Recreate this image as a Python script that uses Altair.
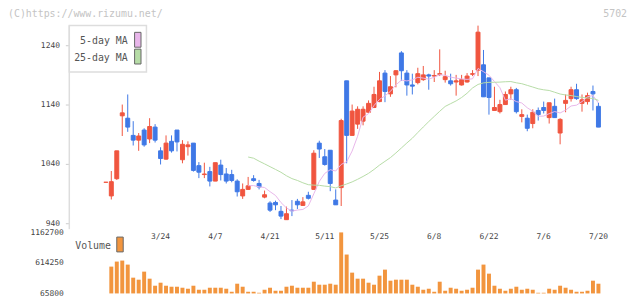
import altair as alt
import pandas as pd

# ---------------- data ----------------
opens = [1009, 986, 1015, 1121, 1117, 1088, 1080, 1097, 1082, 1102,
         1062, 1048, 1078, 1097, 1047, 1069, 1075, 1037, 1022, 1027,
         1011, 1038, 1023, 1022, 1011, 986, 997, 1015, 1007, 984,
         974, 975, 960, 946, 962, 977, 970, 987, 997, 1075,
         1052, 1063, 979, 1000, 1180, 1088, 1107, 1112, 1127, 1135,
         1145, 1193, 1158, 1190, 1227, 1193, 1173, 1177, 1182, 1190,
         1188, 1191, 1182, 1180, 1178, 1173, 1178, 1191, 1198, 1207,
         1185, 1130, 1128, 1140, 1158, 1165, 1120, 1117, 1108, 1130,
         1135, 1118, 1137, 1092, 1142, 1150, 1165, 1142, 1145, 1162,
         1137]
highs = [1009, 1028, 1062, 1140, 1157, 1112, 1092, 1100, 1117, 1107,
         1068, 1088, 1088, 1097, 1080, 1078, 1075, 1043, 1042, 1035,
         1042, 1047, 1033, 1030, 1014, 1007, 1018, 1021, 1013, 995,
         977, 978, 969, 968, 979, 981, 984, 993, 1063, 1079,
         1065, 1063, 997, 1116, 1180, 1140, 1137, 1137, 1147, 1170,
         1195, 1198, 1188, 1198, 1230, 1198, 1192, 1202, 1205, 1192,
         1198, 1233, 1197, 1192, 1190, 1190, 1193, 1198, 1273, 1232,
         1185, 1170, 1148, 1162, 1170, 1168, 1132, 1123, 1132, 1135,
         1145, 1143, 1150, 1117, 1157, 1170, 1175, 1157, 1160, 1172,
         1143]
lows = [1009, 980, 1013, 1087, 1094, 1071, 1062, 1069, 1075, 1076,
        1039, 1047, 1059, 1061, 1041, 1054, 1027, 1016, 1016, 1002,
        1011, 1012, 1007, 1009, 985, 981, 996, 1010, 997, 982,
        959, 962, 947, 946, 952, 964, 969, 980, 996, 1050,
        1037, 994, 971, 969, 1041, 1088, 1099, 1105, 1126, 1134,
        1144, 1144, 1153, 1169, 1180, 1155, 1157, 1174, 1180, 1165,
        1178, 1188, 1177, 1172, 1155, 1172, 1177, 1188, 1188, 1153,
        1123, 1130, 1125, 1140, 1148, 1125, 1110, 1095, 1100, 1113,
        1125, 1108, 1118, 1073, 1127, 1145, 1148, 1128, 1140, 1130,
        1102]
closes = [1009, 1010, 1062, 1126, 1102, 1080, 1087, 1072, 1103, 1080,
          1049, 1075, 1062, 1077, 1073, 1072, 1029, 1026, 1023, 1011,
          1042, 1022, 1011, 1012, 993, 997, 1003, 1012, 1001, 988,
          962, 971, 952, 956, 961, 971, 976, 982, 1058, 1065,
          1039, 1007, 971, 1113, 1088, 1129, 1132, 1132, 1142, 1157,
          1180, 1162, 1170, 1197, 1197, 1173, 1171, 1192, 1190, 1188,
          1189, 1192, 1187, 1175, 1180, 1182, 1188, 1192, 1262, 1153,
          1152, 1135, 1140, 1157, 1165, 1128, 1123, 1100, 1127, 1123,
          1130, 1143, 1118, 1115, 1147, 1165, 1150, 1148, 1155, 1158,
          1102]
volumes = [65800, 548000, 638400, 656400, 584100, 349100, 312900, 457600, 331000, 204400,
           258700, 204400, 186300, 186300, 168300, 150200, 204400, 132100, 132100, 168300,
           168300, 168300, 150200, 95900, 240600, 186300, 95900, 95900, 77900, 132100,
           168300, 114000, 114000, 186300, 204400, 168300, 168300, 168300, 276700, 222500,
           222500, 240600, 222500, 1162700, 764900, 439500, 331000, 331000, 258700, 222500,
           385200, 493700, 294800, 312900, 312900, 312900, 222500, 186300, 132100, 150200,
           95900, 276700, 114000, 168300, 150200, 114000, 132100, 168300, 493700, 584100,
           421400, 204400, 150200, 114000, 150200, 186300, 132100, 150200, 132100, 77900,
           77900, 150200, 132100, 204400, 168300, 132100, 95900, 95900, 114000, 294800,
           240600]
date_labels = ["3/24", "4/7", "4/21", "5/11", "5/25", "6/8", "6/22", "7/6", "7/20"]
date_index = [10, 20, 30, 40, 50, 60, 70, 80, 90]
price_ticks = [940, 1040, 1140, 1240]
volume_ticks = [65800, 614250, 1162700]
ma_start = 26

# ---------------- styling ----------------
RED = "#f0553f"
BLUE = "#3f78e6"
ORANGE = "#f2953e"
PINK = "#e8b6ea"
GREEN = "#b6dca6"
AXIS_GRAY = "#dddddd"
TEXT = "#444444"
FONT = "DejaVu Sans Mono"

W, H = 555, 271
X_DOM = [-5.77, 92.7]
P_DOM = [821.67, 1273.33]
V_DOM = [65800, 4883600]

df = pd.DataFrame({"i": list(range(len(opens))), "open": opens, "high": highs,
                   "low": lows, "close": closes, "volume": volumes})

xs = alt.Scale(domain=X_DOM, nice=False, zero=False)
x_tick_vals = [round(X_DOM[0] + k * (X_DOM[1] - X_DOM[0]) / 17, 4) for k in range(18)]


def ps():
    return alt.Scale(domain=P_DOM, nice=False, zero=False)


up = alt.condition("datum.close >= datum.open", alt.value(RED), alt.value(BLUE))
base = alt.Chart(df)

wicks = base.mark_rule(strokeWidth=1).encode(
    x=alt.X("i:Q", scale=xs, axis=alt.Axis(values=x_tick_vals, labels=False, tickSize=7,
                                           tickColor=AXIS_GRAY, domainColor=AXIS_GRAY,
                                           domainWidth=1.5, grid=False, offset=-71, title=None)),
    y=alt.Y("low:Q", scale=ps(), axis=alt.Axis(values=price_ticks, orient="left", tickSize=4,
                                               tickColor="#cccccc", domain=False, grid=False,
                                               format="d", labelFont=FONT, labelFontSize=8,
                                               labelColor=TEXT, labelPadding=6, title=None)),
    y2="high:Q",
    color=up,
)
bodies = base.mark_bar(width=4, strokeWidth=1).encode(
    x=alt.X("i:Q", scale=xs, axis=None),
    y=alt.Y("open:Q", scale=ps(), axis=None),
    y2="close:Q",
    fill=up,
    stroke=up,
)
ma = base.transform_window(
    ma5="mean(close)", frame=[-4, 0], sort=[alt.SortField("i")]
).transform_window(
    ma25="mean(close)", frame=[-24, 0], sort=[alt.SortField("i")]
).transform_filter(f"datum.i >= {ma_start}")
ma5 = ma.mark_line(color=PINK, strokeWidth=1).encode(
    x=alt.X("i:Q", scale=xs, axis=None), y=alt.Y("ma5:Q", scale=ps(), axis=None))
ma25 = ma.mark_line(color=GREEN, strokeWidth=1).encode(
    x=alt.X("i:Q", scale=xs, axis=None), y=alt.Y("ma25:Q", scale=ps(), axis=None))

vol_bars = base.mark_bar(width=4, color=ORANGE).encode(
    x=alt.X("i:Q", scale=xs, axis=None),
    y=alt.Y("volume:Q", scale=alt.Scale(domain=V_DOM, nice=False, zero=False),
            axis=alt.Axis(values=volume_ticks, orient="left", ticks=False, domain=False,
                          grid=False, format="d", labelFont=FONT, labelFontSize=8,
                          labelColor=TEXT, labelPadding=6, title=None)),
    y2=alt.datum(65800),
)

dates = alt.Chart(pd.DataFrame({"i": date_index, "label": date_labels})).mark_text(
    font=FONT, fontSize=8, color=TEXT, baseline="middle").encode(
    x=alt.X("i:Q", scale=xs, axis=None), y=alt.value(214), text="label:N")


def txt(s, x, y, align="left", size=10, color=TEXT):
    return alt.Chart(pd.DataFrame({"t": [s]})).mark_text(
        font=FONT, fontSize=size, color=color, align=align, baseline="middle").encode(
        text="t:N", x=alt.value(x), y=alt.value(y))


def box(x1, x2, y1, y2, fill, stroke, sw=1):
    return alt.Chart(pd.DataFrame({"a": [0]})).mark_rect(
        fill=fill, stroke=stroke, strokeWidth=sw).encode(
        x=alt.value(x1), x2=alt.value(x2), y=alt.value(y1), y2=alt.value(y2))


yaxis_line = alt.Chart(pd.DataFrame({"a": [0]})).mark_rule(color=AXIS_GRAY, strokeWidth=1.5).encode(
    x=alt.value(0), y=alt.value(0), y2=alt.value(206))

legend = [
    box(0, 78, 0, 47, "white", AXIS_GRAY, 1.5),
    txt("5-day MA", 59, 16, align="right", color="#555555"),
    txt("25-day MA", 59, 33, align="right", color="#555555"),
    box(66, 72.5, 7, 22, PINK, "#666666"),
    box(66, 72.5, 24, 39, GREEN, "#666666"),
]
vol_legend = [
    txt("Volume", 6, 223, color="#555555"),
    box(48, 54.5, 214, 229, ORANGE, "#666666"),
]
header = [
    txt("(C)https://www.rizumu.net/", -62, -12, color="#c4c4c4"),
    txt("5702", 564, -12, align="right", color="#c4c4c4"),
]

chart = alt.layer(
    wicks, yaxis_line, bodies, ma5, ma25, vol_bars, dates, *legend, *vol_legend, *header
).resolve_scale(y="independent").properties(
    width=W, height=H,
    padding={"left": 62, "top": 16, "right": 14, "bottom": 4},
    autosize=alt.AutoSizeParams(type="none"),
    background="white",
).configure_view(strokeWidth=0)

chart.save("out.html", embed_options={"renderer": "svg", "actions": False})
